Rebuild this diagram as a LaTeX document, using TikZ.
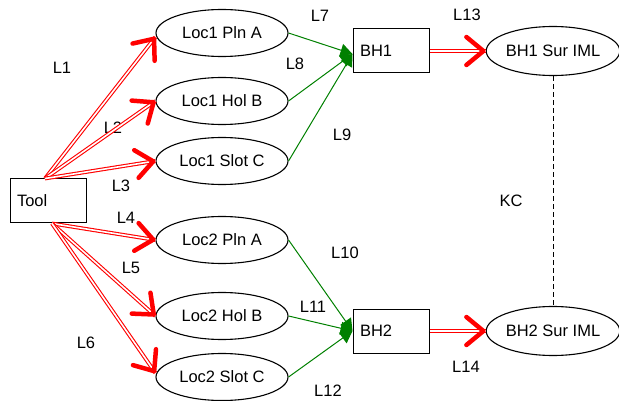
\documentclass[tikz,border=0pt]{standalone}
\usepackage{fontspec}
\setmainfont{Liberation Sans}
\usetikzlibrary{arrows.meta, shapes.geometric, decorations.markings}
\definecolor{linkgreen}{RGB}{0,128,0}
\tikzstyle{tbox} = [rectangle, draw, line width=1pt, text width=62pt, inner xsep=7pt, minimum height=44pt, align=left]
\tikzstyle{loc} = [ellipse, draw, line width=1.1pt, minimum width=132pt, minimum height=47pt, inner sep=0pt]
\tikzstyle{dline} = [draw=red, line width=1.1pt, double=white, double distance=1.6pt, postaction={decorate, decoration={markings, mark=at position 1 with {\arrow{Straight Barb[length=17pt, width=28pt, line width=4.5pt, round, color=red]}}}}]
\tikzstyle{gline} = [draw=linkgreen, line width=1pt, -{Triangle[length=12pt, width=13pt]}]

\begin{document}
\begin{tikzpicture}[x=1pt, y=-1pt, node distance=60pt, font=\fontsize{16.5}{19}\selectfont]
    \useasboundingbox (0,0) rectangle (619,401);
    % Place nodes
    \node [tbox] (tool) at (48,201) {Tool};
    \node [loc] (pla1) at (222,33) {Loc1 Pln A};
    \node [loc, below of=pla1, node distance=68pt] (holb1) {Loc1 Hol B};
    \node [loc, below of=holb1] (slotc1) {Loc1 Slot C};
    \node [loc, below of=slotc1, node distance=79pt] (pla2) {Loc2 Pln A};
    \node [loc, below of=pla2, node distance=76pt] (holb2) {Loc2 Hol B};
    \node [loc, below of=holb2, node distance=61pt] (slotc2) {Loc2 Slot C};
    \node [tbox] (bh1) at (391,51) {BH1};
    \node [tbox, below of=bh1, node distance=280pt] (bh2) {BH2};
    \node [loc, minimum width=130pt, minimum height=49pt, right of=bh1, node distance=162pt] (sur1) {BH1 Sur IML};
    \node [loc, minimum width=130pt, minimum height=49pt, right of=bh2, node distance=162pt] (sur2) {BH2 Sur IML};
    % Labels
    \node (l1) at (62,68) {L1};
    \node (l2) at (113,128) {L2};
    \node (l3) at (121,186) {L3};
    \node (l4) at (126,218) {L4};
    \node (l5) at (131,268) {L5};
    \node (l6) at (86,343) {L6};
    \node (l7) at (320,16) {L7};
    \node (l8) at (295,64) {L8};
    \node (l9) at (342,135) {L9};
    \node (l10) at (345,253) {L10};
    \node (l11) at (313,307) {L11};
    \node (l12) at (328,391) {L12};
    \node (l13) at (467,15) {L13};
    \node (l14) at (466,367) {L14};
    \node (kc) at (511,201) {KC};
    % Draw edges
    \path [dline] ([xshift=-3pt]tool.north) -- ([yshift=-4pt]pla1.west);
    \path [dline] ([xshift=-3pt]tool.north) -- (holb1.west);
    \path [dline] ([xshift=-3pt]tool.north) -- (slotc1.west);
    \path [dline] ([xshift=4pt]tool.south) -- (pla2.west);
    \path [dline] ([xshift=4pt]tool.south) -- (holb2.west);
    \path [dline] ([xshift=4pt]tool.south) -- ([yshift=4pt]slotc2.west);
    \path [gline] (pla1.east) -- ([yshift=-3pt]bh1.west);
    \path [gline] (holb1.east) -- ([yshift=-3pt]bh1.west);
    \path [gline] (slotc1.east) -- ([yshift=-3pt]bh1.west);
    \path [gline] (pla2.east) -- (bh2.west);
    \path [gline] (holb2.east) -- (bh2.west);
    \path [gline] (slotc2.east) -- (bh2.west);
    \path [dline] (bh1.east) -- (sur1.west);
    \path [dline] (bh2.east) -- (sur2.west);
    \draw [dash pattern=on 5pt off 3pt] (sur1) -- (sur2);
\end{tikzpicture}
\end{document}
